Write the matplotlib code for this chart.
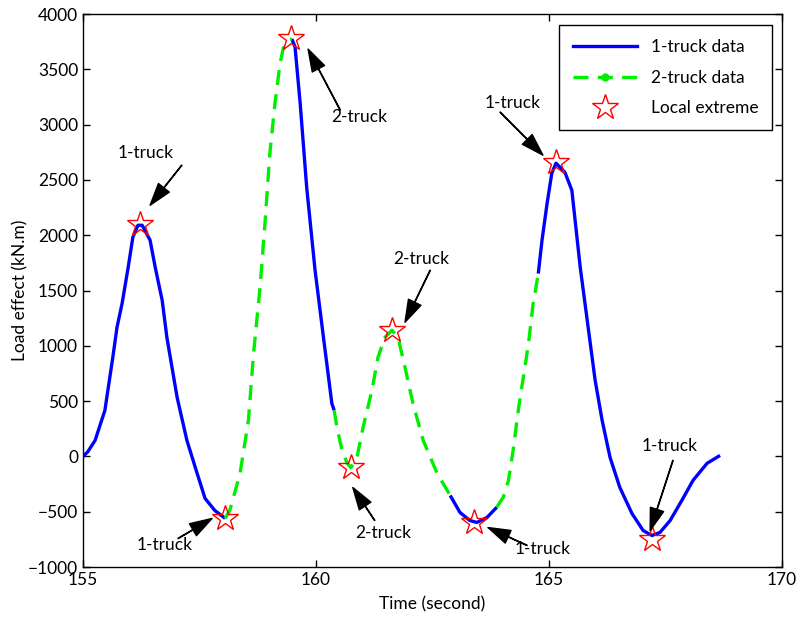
import numpy as np
import matplotlib
matplotlib.use('Agg')
from matplotlib import pyplot as plt
from matplotlib.lines import Line2D

plt.rcParams['font.family'] = ['Lato', 'DejaVu Sans']

# Curve pieces, alternating between 1-truck and 2-truck loading
seg_a_t = [155.00, 155.10, 155.26, 155.47, 155.64, 155.73, 155.84, 155.97, 156.07, 156.18, 156.27,
           156.44, 156.55, 156.70, 156.80, 157.02, 157.23, 157.45, 157.62, 157.83, 158.05]
seg_a_y = [0, 40, 145, 416, 896, 1167, 1385, 1710, 1982, 2090, 2090,
           1955, 1710, 1410, 1077, 534, 145, -154, -380, -489, -560]

seg_b_t = [158.05, 158.15, 158.37, 158.55, 158.66, 158.80, 158.91, 159.01, 159.12, 159.23, 159.30, 159.41, 159.48]
seg_b_y = [-560, -489, -154, 326, 932, 1530, 2136, 2742, 3195, 3557, 3692, 3765, 3775]

seg_c_t = [159.48, 159.55, 159.66, 159.80, 159.98, 160.16, 160.34, 160.39]
seg_c_y = [3775, 3704, 3195, 2434, 1683, 1077, 480, 416]

seg_d_t = [160.39, 160.45, 160.56, 160.67, 160.75, 160.88, 161.01, 161.20, 161.33, 161.48, 161.63,
           161.76, 161.91, 162.08, 162.30, 162.60, 162.88]
seg_d_y = [416, 262, 54, -63, -100, -9, 262, 597, 896, 1077, 1140,
           1077, 805, 480, 145, -154, -353]

seg_e_t = [162.88, 163.09, 163.30, 163.45, 163.67, 163.88]
seg_e_y = [-353, -507, -579, -597, -552, -459]

seg_f_t = [163.88, 164.02, 164.13, 164.23, 164.34, 164.45, 164.56, 164.66, 164.77]
seg_f_y = [-459, -368, -217, 54, 416, 718, 1020, 1382, 1653]

seg_g_t = [164.77, 164.85, 164.96, 165.06, 165.15, 165.34, 165.49, 165.56, 165.67, 165.82, 165.99, 166.14,
           166.31, 166.52, 166.78, 167.02, 167.21, 167.38, 167.60, 167.85, 168.09, 168.39, 168.67]
seg_g_y = [1653, 1955, 2290, 2561, 2651, 2570, 2407, 2136, 1710, 1231, 688, 326,
           -9, -281, -516, -670, -715, -688, -579, -398, -217, -63, 9]

one_truck = [(seg_a_t, seg_a_y), (seg_c_t, seg_c_y), (seg_e_t, seg_e_y), (seg_g_t, seg_g_y)]
two_truck = [(seg_b_t, seg_b_y), (seg_d_t, seg_d_y), (seg_f_t, seg_f_y)]

# local extremes
ext_t = [156.22, 158.05, 159.46, 160.75, 161.63, 163.40, 165.15, 167.20]
ext_y = [2100, -560, 3785, -100, 1140, -590, 2660, -750]

# annotations: label, text position, arrow tail, arrow tip
notes = [
    ('1-truck', (156.35, 2742), (157.12, 2633), (156.44, 2271)),
    ('1-truck', (156.76, -805), (157.04, -742), (157.77, -561)),
    ('2-truck', (160.92, 3068), (160.52, 3131), (159.83, 3683)),
    ('2-truck', (161.44, -688), (161.26, -579), (160.79, -281)),
    ('2-truck', (162.25, 1783), (162.45, 1683), (161.91, 1213)),
    ('1-truck', (164.87, -833), (164.53, -805), (163.69, -643)),
    ('1-truck', (164.23, 3195), (163.95, 3113), (164.87, 2724)),
    ('1-truck', (167.58, 90), (167.66, -36), (167.17, -670)),
]

fig = plt.figure(figsize=(8.01, 6.18), dpi=100)
ax = fig.add_axes([0.1036, 0.0825, 0.8727, 0.8948])

for t, y in one_truck:
    ax.plot(t, y, color='#0000ff', lw=2.4, solid_capstyle='butt')
for t, y in two_truck:
    ax.plot(t, y, color='#00ee00', lw=2.4, ls=(0, (4.5, 2.8)))
ax.plot(ext_t, ext_y, ls='none', marker='*', ms=19, mfc='none', mec='red', mew=1.0)

for label, txt, tail, tip in notes:
    ax.text(txt[0], txt[1], label, fontsize=12.5, ha='center', va='center')
    ax.annotate('', xy=tip, xytext=tail,
                arrowprops=dict(facecolor='k', edgecolor='k', width=0.3, headwidth=10, headlength=16, shrink=0))

ax.set_xlim(155, 170)
ax.set_ylim(-1000, 4000)
ax.set_xticks([155, 160, 165, 170])
ax.set_yticks(np.arange(-1000, 4001, 500))
ax.tick_params(direction='in', length=5, top=True, right=True, labelsize=12.5, width=1)
for s in ax.spines.values():
    s.set_linewidth(1.0)
ax.set_xlabel('Time (second)', fontsize=12.5, labelpad=6)
ax.set_ylabel('Load effect (kN.m)', fontsize=12.5, labelpad=0)

handles = [
    Line2D([], [], color='#0000ff', lw=2.4),
    Line2D([], [], color='#00ee00', lw=2.4, ls=(0, (4.5, 2.8)), marker='.', ms=10),
    Line2D([], [], ls='none', marker='*', ms=19, mfc='none', mec='red', mew=1.0),
]
leg = ax.legend(handles, ['1-truck data', '2-truck data', 'Local extreme'],
                loc='upper right', bbox_to_anchor=(0.986, 0.98), borderaxespad=0,
                fontsize=12.5, handlelength=3.7, labelspacing=0.85, fancybox=False,
                edgecolor='k', framealpha=1, borderpad=0.8, handletextpad=0.8)
leg.get_frame().set_linewidth(1.0)

fig.savefig('out.png', dpi=100)
